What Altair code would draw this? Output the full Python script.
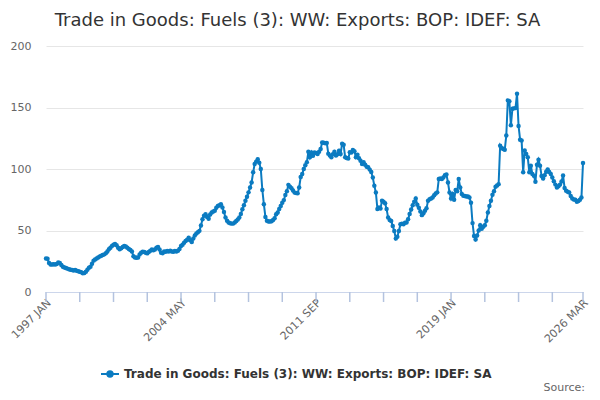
import altair as alt
import pandas as pd

TITLE = "Trade in Goods: Fuels (3): WW: Exports: BOP: IDEF: SA"
SERIES = "Trade in Goods: Fuels (3): WW: Exports: BOP: IDEF: SA"
SOURCE = "Source:"

# monthly values, 1997 JAN .. 2026 MAR
y1997 = [27.3, 27.0, 23.5, 22.4, 22.4, 22.5, 22.4, 22.8, 24.0, 23.5, 22.0, 20.5]
y1998 = [20.0, 19.5, 19.0, 18.5, 18.0, 17.8, 17.5, 17.8, 17.2, 16.8, 16.5, 16.0]
y1999 = [15.2, 15.5, 16.5, 18.0, 19.8, 20.5, 23.0, 25.5, 26.5, 27.2, 28.0, 28.8]
y2000 = [29.5, 30.0, 30.6, 31.5, 33.0, 34.7, 36.0, 37.5, 38.5, 39.0, 38.0, 36.0]
y2001 = [34.7, 35.5, 36.5, 37.4, 37.0, 36.0, 35.0, 34.1, 33.0, 29.0, 28.0, 27.9]
y2002 = [28.0, 30.5, 32.0, 32.8, 32.5, 32.0, 31.4, 32.5, 33.5, 34.5, 34.0, 34.5]
y2003 = [36.0, 36.5, 34.5, 32.0, 31.5, 33.0, 32.8, 33.3, 33.0, 33.5, 33.0, 32.8]
y2004 = [33.3, 33.0, 33.5, 35.0, 37.4, 38.5, 40.1, 41.5, 42.5, 44.2, 42.0, 40.7]
y2005 = [43.5, 46.0, 47.5, 48.5, 49.7, 54.0, 59.2, 62.0, 63.3, 61.0, 59.5, 63.0]
y2006 = [64.6, 65.5, 66.0, 68.5, 70.0, 70.5, 71.4, 68.7, 65.0, 60.5, 58.0, 56.5]
y2007 = [55.9, 55.6, 55.6, 56.5, 57.8, 59.0, 60.5, 63.5, 67.3, 70.5, 74.2, 77.5]
y2008 = [81.0, 85.0, 89.1, 97.3, 104.0, 106.0, 108.0, 105.0, 100.0, 83.0, 71.4, 61.0]
y2009 = [58.0, 57.3, 57.3, 57.5, 58.5, 60.0, 63.3, 64.6, 67.5, 70.0, 72.5, 74.7]
y2010 = [78.8, 82.0, 87.1, 85.5, 84.4, 82.5, 80.8, 80.5, 80.3, 85.0, 93.5, 96.0]
y2011 = [100.0, 103.0, 105.4, 114.0, 109.5, 113.5, 110.8, 113.5, 113.0, 112.1, 114.0, 116.3]
y2012 = [121.6, 121.4, 121.0, 121.2, 112.5, 110.9, 109.5, 112.0, 114.1, 110.9, 112.0, 114.9]
y2013 = [112.2, 120.5, 119.7, 109.5, 109.0, 108.5, 113.6, 113.5, 115.5, 114.5, 109.5, 111.5]
y2014 = [108.7, 106.7, 104.1, 105.4, 103.5, 101.8, 101.4, 99.5, 97.5, 93.0, 86.4, 80.9]
y2015 = [67.4, 68.7, 67.8, 74.2, 73.3, 72.2, 67.4, 60.5, 58.6, 57.8, 53.7, 49.6]
y2016 = [43.4, 45.0, 49.6, 55.0, 55.5, 55.0, 56.4, 56.5, 59.1, 63.5, 67.0, 70.5]
y2017 = [73.3, 76.0, 71.0, 68.5, 65.5, 62.5, 64.0, 66.0, 68.0, 74.2, 75.4, 76.0]
y2018 = [76.8, 78.6, 80.0, 81.0, 91.8, 92.3, 91.8, 93.1, 95.0, 95.5, 89.0, 80.9]
y2019 = [76.0, 79.6, 75.0, 83.0, 82.0, 91.8, 85.0, 79.6, 78.2, 78.0, 77.7, 77.6]
y2020 = [76.9, 72.5, 56.0, 45.5, 42.6, 46.0, 50.0, 54.3, 51.5, 53.0, 54.3, 58.0]
y2021 = [64.6, 70.0, 74.2, 79.0, 82.0, 85.5, 86.5, 87.7, 119.0, 117.0, 116.3, 115.6]
y2022 = [127.2, 155.8, 155.0, 135.5, 149.0, 149.3, 149.5, 161.2, 135.0, 123.8, 123.1, 97.3]
y2023 = [115.0, 112.2, 109.5, 97.3, 102.7, 95.9, 94.6, 89.7, 103.5, 107.5, 102.7, 94.3]
y2024 = [92.2, 95.0, 97.8, 99.7, 97.5, 95.9, 93.0, 90.0, 87.3, 85.0, 86.0, 87.3]
y2025 = [89.8, 94.8, 84.6, 82.3, 81.5, 80.9, 78.0, 76.0, 75.2, 75.0, 73.3, 74.0]
y2026 = [75.0, 76.9, 104.9]

tick_labels = ["1997 JAN", "2004 MAY", "2011 SEP", "2019 JAN", "2026 MAR"]
label_positions = [0, 88, 176, 264, 350]
tick_positions = [0, 22, 44, 66, 88, 110, 132, 154, 176, 198, 220, 242, 264, 286, 308, 330, 350]
y_ticks = [0, 50, 100, 150, 200]

values = (y1997 + y1998 + y1999 + y2000 + y2001 + y2002 + y2003 + y2004 + y2005
          + y2006 + y2007 + y2008 + y2009 + y2010 + y2011 + y2012 + y2013 + y2014
          + y2015 + y2016 + y2017 + y2018 + y2019 + y2020 + y2021 + y2022 + y2023
          + y2024 + y2025 + y2026)
n = len(values)
df = pd.DataFrame({"idx": list(range(n)), "value": values, "series": [SERIES] * n})
ticks_df = pd.DataFrame({"idx": tick_positions})

expr = " : ".join(f"datum.value == {k} ? '{v}'" for k, v in zip(label_positions, tick_labels)) + " : ''"

blue = "#0b7bc1"
FONT = "DejaVu Sans"
AXIS_COLOR = "#ccd6eb"
TICK_COLOR = "#b4c3df"
legend_symbol = "M-1,0L1,0M0.3,0A0.3,0.3,0,1,1,-0.3,0A0.3,0.3,0,1,1,0.3,0Z"

x_scale = alt.Scale(domain=[0, n - 1], nice=False, zero=False)

line = alt.Chart(df).mark_line(
    strokeWidth=2,
    point=alt.OverlayMarkDef(filled=True, size=20),
).encode(
    x=alt.X("idx:Q", scale=x_scale,
            axis=alt.Axis(values=tick_positions, labelExpr=expr, title=None, grid=False,
                          domainColor=AXIS_COLOR, ticks=True, tickOpacity=0,
                          tickWidth=1, tickSize=10,
                          labelAngle=-45, labelAlign="right", labelBaseline="middle",
                          labelFontSize=11, labelColor="#666666", labelFont=FONT,
                          labelPadding=-1, labelOffset=3, labelOverlap=False,
                          labelFlush=False)),
    y=alt.Y("value:Q", scale=alt.Scale(domain=[0, 200], nice=False),
            axis=alt.Axis(values=y_ticks, title=None, domain=False, ticks=False,
                          gridColor="#e6e6e6", labelPadding=15, labelFontSize=11,
                          labelColor="#666666", labelFont=FONT)),
    color=alt.Color("series:N", scale=alt.Scale(range=[blue]),
                    legend=alt.Legend(title=None, orient="none", legendX=54, legendY=318,
                                      symbolType=legend_symbol, symbolSize=324,
                                      symbolStrokeWidth=2, symbolStrokeColor=blue,
                                      symbolFillColor=blue,
                                      labelFont=FONT, labelFontSize=12, labelFontWeight="bold",
                                      labelColor="#333333", labelOffset=4, labelLimit=0)),
)

tick_marks = alt.Chart(ticks_df).mark_rule(color=TICK_COLOR, strokeWidth=1.5).encode(
    x=alt.X("idx:Q", scale=x_scale), y=alt.value(246), y2=alt.value(256)
)

src = alt.Chart(pd.DataFrame({"t": [SOURCE]})).mark_text(
    align="right", baseline="middle", font=FONT, fontSize=11, color="#666666"
).encode(text="t:N", x=alt.value(539), y=alt.value(342))

chart = alt.layer(tick_marks, line, src).properties(
    width=537, height=246,
    title=alt.TitleParams(text=TITLE, font=FONT, fontSize=18, fontWeight="normal",
                          color="#333333", anchor="middle", offset=10, dx=-17),
    autosize=alt.AutoSizeParams(type="none"),
    padding={"left": 38, "top": 38, "right": 8, "bottom": 106},
).configure_view(stroke=None)

chart.save("out.html", embed_options={"renderer": "svg", "actions": False})
